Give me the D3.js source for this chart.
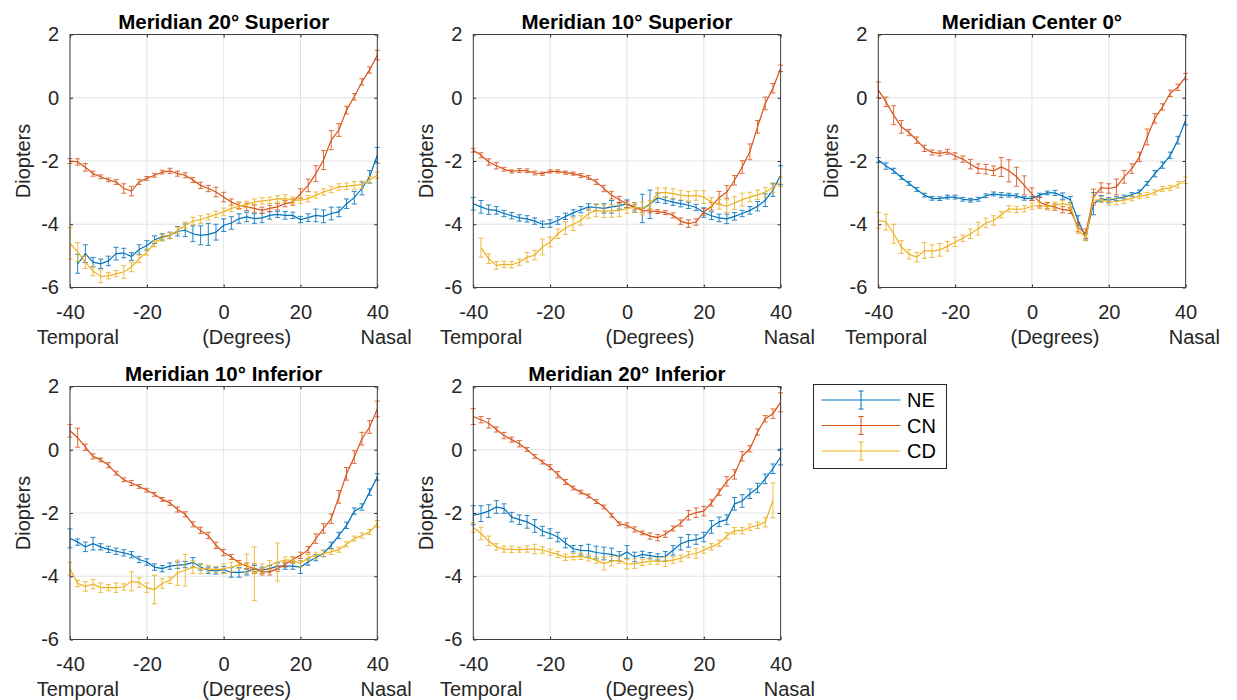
<!DOCTYPE html>
<html>
<head>
<meta charset="utf-8">
<script src="https://d3js.org/d3.v7.min.js"></script>
<style>
  body { margin: 0; background: #fff; }
  text { font-family: "Liberation Sans", Arial, Helvetica, sans-serif; fill: #262626; }
</style>
</head>
<body>
<div id="chart"></div>
<script>
// x positions (degrees) of the measurements
var degrees = [-40,-38,-36,-34,-32,-30,-28,-26,-24,-22,-20,-18,-16,-14,-12,-10,-8,-6,-4,-2,
               0,2,4,6,8,10,12,14,16,18,20,22,24,26,28,30,32,34,36,38,40];

var xTicks = [-40, -20, 0, 20, 40];
var yTicks = [-6, -4, -2, 0, 2];
var seriesNames = ["NE", "CN", "CD"];
var panelTitles = ["Meridian 20\u00b0 Superior", "Meridian 10\u00b0 Superior", "Meridian Center 0\u00b0",
                   "Meridian 10\u00b0 Inferior", "Meridian 20\u00b0 Inferior"];

// Meridian 20° Superior
var ne20Sup = [null,-5.25,-4.93,-5.2,-5.25,-5.16,-4.93,-4.91,-5.02,-4.8,-4.67,-4.49,-4.4,-4.35,-4.22,-4.19,-4.3,-4.35,-4.32,-4.25,
               -4.03,-3.96,-3.82,-3.77,-3.82,-3.8,-3.72,-3.69,-3.72,-3.72,-3.85,-3.79,-3.72,-3.75,-3.66,-3.61,-3.35,-3.16,-2.87,-2.5,-1.82];
var ne20SupErr = [null,0.3,0.28,0.15,0.15,0.15,0.2,0.15,0.12,0.15,0.15,0.12,0.1,0.1,0.15,0.2,0.25,0.3,0.35,0.25,
                  0.2,0.2,0.15,0.15,0.15,0.15,0.12,0.1,0.12,0.1,0.1,0.12,0.2,0.2,0.2,0.15,0.15,0.2,0.2,0.2,0.25];
var cn20Sup = [-2.0,-2.03,-2.2,-2.4,-2.5,-2.6,-2.66,-2.87,-2.95,-2.66,-2.55,-2.45,-2.35,-2.31,-2.4,-2.45,-2.6,-2.77,-2.87,-2.98,
               -3.14,-3.3,-3.4,-3.45,-3.5,-3.56,-3.5,-3.45,-3.35,-3.3,-3.03,-2.77,-2.4,-1.97,-1.34,-1.02,-0.39,0.03,0.5,0.88,1.35];
var cn20SupErr = [0.08,0.1,0.12,0.08,0.06,0.06,0.08,0.15,0.15,0.08,0.06,0.06,0.06,0.08,0.08,0.08,0.08,0.1,0.1,0.15,
                  0.15,0.1,0.1,0.12,0.12,0.1,0.1,0.1,0.1,0.1,0.15,0.2,0.25,0.3,0.3,0.2,0.12,0.1,0.1,0.1,0.15];
var cd20Sup = [-4.6,-4.88,-5.2,-5.48,-5.65,-5.63,-5.56,-5.51,-5.35,-5.09,-4.88,-4.61,-4.43,-4.36,-4.19,-4.03,-3.9,-3.85,-3.77,-3.69,
               -3.61,-3.5,-3.43,-3.37,-3.3,-3.26,-3.24,-3.2,-3.19,-3.24,-3.24,-3.19,-3.08,-2.98,-2.9,-2.82,-2.8,-2.77,-2.75,-2.59,-2.45];
var cd20SupErr = [0.5,0.3,0.2,0.15,0.2,0.1,0.1,0.2,0.15,0.12,0.1,0.1,0.1,0.1,0.1,0.1,0.12,0.12,0.1,0.1,
                  0.12,0.1,0.1,0.1,0.1,0.1,0.1,0.1,0.12,0.1,0.1,0.1,0.1,0.1,0.1,0.1,0.1,0.12,0.12,0.1,0.1];

// Meridian 10° Superior
var ne10Sup = [-3.35,-3.45,-3.54,-3.56,-3.66,-3.73,-3.8,-3.83,-3.9,-4.0,-3.98,-3.88,-3.75,-3.64,-3.54,-3.45,-3.47,-3.5,-3.45,-3.42,
               -3.35,-3.47,-3.5,-3.37,-3.16,-3.24,-3.3,-3.35,-3.4,-3.47,-3.63,-3.73,-3.8,-3.83,-3.75,-3.66,-3.56,-3.43,-3.24,-2.92,-2.45];
var ne10SupErr = [0.2,0.2,0.15,0.12,0.1,0.1,0.1,0.1,0.1,0.1,0.12,0.12,0.1,0.1,0.1,0.1,0.1,0.15,0.2,0.1,
                  0.12,0.15,0.45,0.45,0.15,0.1,0.1,0.1,0.1,0.1,0.15,0.12,0.12,0.15,0.12,0.1,0.12,0.15,0.2,0.2,0.3];
var cn10Sup = [-1.66,-1.82,-2.03,-2.15,-2.26,-2.33,-2.3,-2.31,-2.38,-2.4,-2.33,-2.33,-2.37,-2.4,-2.46,-2.52,-2.66,-2.87,-3.08,-3.22,
               -3.37,-3.47,-3.56,-3.58,-3.6,-3.63,-3.72,-3.9,-3.98,-3.93,-3.61,-3.43,-3.16,-2.98,-2.61,-2.19,-1.71,-0.92,-0.18,0.3,0.93];
var cn10SupErr = [0.06,0.08,0.1,0.1,0.06,0.05,0.06,0.06,0.06,0.05,0.05,0.05,0.05,0.05,0.06,0.06,0.08,0.1,0.12,0.1,
                  0.1,0.08,0.06,0.06,0.06,0.06,0.08,0.1,0.12,0.1,0.1,0.12,0.2,0.2,0.15,0.2,0.25,0.2,0.2,0.15,0.1];
var cd10Sup = [null,-4.74,-5.09,-5.3,-5.27,-5.28,-5.2,-5.04,-4.98,-4.72,-4.56,-4.3,-4.12,-4.0,-3.88,-3.66,-3.56,-3.59,-3.58,-3.56,
               -3.5,-3.47,-3.5,-3.4,-3.0,-3.0,-3.03,-3.08,-3.11,-3.09,-3.14,-3.3,-3.37,-3.43,-3.33,-3.22,-3.14,-3.07,-2.99,-2.84,-2.66];
var cd10SupErr = [null,0.3,0.15,0.12,0.1,0.1,0.1,0.15,0.15,0.25,0.15,0.15,0.2,0.2,0.15,0.15,0.2,0.2,0.2,0.2,
                  0.15,0.15,0.2,0.15,0.15,0.15,0.15,0.15,0.15,0.15,0.2,0.15,0.15,0.2,0.2,0.2,0.15,0.15,0.15,0.15,0.15];

// Meridian Center 0°
var neCenter = [-1.97,-2.16,-2.31,-2.52,-2.71,-2.9,-3.08,-3.18,-3.19,-3.14,-3.14,-3.21,-3.24,-3.21,-3.1,-3.04,-3.08,-3.08,-3.1,-3.18,
                -3.18,-3.08,-3.01,-3.01,-3.11,-3.22,-3.88,-4.4,-3.35,-3.19,-3.24,-3.19,-3.14,-3.06,-2.98,-2.71,-2.4,-2.13,-1.82,-1.34,-0.71];
var neCenterErr = [0.08,0.1,0.08,0.06,0.06,0.06,0.06,0.06,0.06,0.06,0.06,0.06,0.06,0.06,0.06,0.06,0.08,0.06,0.06,0.06,
                   0.06,0.06,0.06,0.08,0.1,0.1,0.15,0.1,0.35,0.1,0.08,0.06,0.06,0.06,0.06,0.06,0.1,0.1,0.1,0.12,0.15];
var cnCenter = [0.25,-0.13,-0.55,-0.92,-1.1,-1.34,-1.6,-1.73,-1.76,-1.71,-1.84,-1.94,-2.1,-2.24,-2.26,-2.31,-2.19,-2.31,-2.5,-2.77,
                -3.05,-3.3,-3.41,-3.46,-3.54,-3.56,-4.09,-4.3,-3.14,-2.84,-2.87,-2.82,-2.5,-2.24,-1.87,-1.24,-0.65,-0.29,0.14,0.33,0.67];
var cnCenterErr = [0.25,0.15,0.3,0.2,0.1,0.1,0.1,0.08,0.08,0.08,0.1,0.1,0.15,0.15,0.15,0.15,0.3,0.35,0.3,0.3,
                   0.2,0.15,0.1,0.1,0.1,0.1,0.15,0.15,0.25,0.15,0.15,0.25,0.2,0.15,0.15,0.25,0.15,0.1,0.1,0.1,0.1];
var cdCenter = [-3.88,-3.93,-4.3,-4.72,-4.95,-5.04,-4.83,-4.85,-4.81,-4.7,-4.56,-4.44,-4.3,-4.14,-3.96,-3.88,-3.7,-3.51,-3.53,-3.51,
                -3.43,-3.4,-3.45,-3.4,-3.35,-3.4,-4.19,-4.42,-3.24,-3.22,-3.29,-3.28,-3.24,-3.18,-3.11,-3.08,-2.99,-2.88,-2.85,-2.75,-2.61];
var cdCenterErr = [0.25,0.25,0.3,0.2,0.15,0.15,0.25,0.2,0.2,0.15,0.15,0.1,0.15,0.2,0.15,0.15,0.1,0.1,0.1,0.1,
                   0.1,0.1,0.1,0.1,0.1,0.1,0.1,0.1,0.1,0.1,0.1,0.1,0.1,0.08,0.08,0.08,0.08,0.08,0.08,0.1,0.1];

// Meridian 10° Inferior
var ne10Inf = [-2.8,-2.92,-3.07,-2.97,-3.07,-3.15,-3.21,-3.26,-3.32,-3.47,-3.55,-3.71,-3.76,-3.68,-3.65,-3.63,-3.56,-3.71,-3.81,-3.83,
               -3.79,-3.88,-3.88,-3.86,-3.76,-3.81,-3.76,-3.68,-3.68,-3.68,-3.71,-3.55,-3.41,-3.28,-3.02,-2.71,-2.39,-1.94,-1.81,-1.34,-0.86];
var ne10InfErr = [0.3,0.1,0.15,0.2,0.1,0.1,0.1,0.1,0.1,0.1,0.1,0.1,0.1,0.1,0.1,0.1,0.15,0.1,0.1,0.1,
                  0.1,0.15,0.15,0.1,0.1,0.1,0.1,0.1,0.1,0.1,0.2,0.1,0.1,0.1,0.1,0.1,0.1,0.1,0.1,0.1,0.1];
var cn10Inf = [0.6,0.38,0.08,-0.21,-0.32,-0.49,-0.74,-0.95,-1.05,-1.16,-1.28,-1.41,-1.57,-1.68,-1.89,-2.04,-2.36,-2.55,-2.71,-3.02,
               -3.25,-3.39,-3.58,-3.68,-3.76,-3.86,-3.86,-3.76,-3.63,-3.47,-3.34,-3.16,-2.81,-2.49,-2.18,-1.49,-0.76,-0.23,0.35,0.72,1.29];
var cn10InfErr = [0.2,0.3,0.1,0.08,0.06,0.08,0.06,0.06,0.08,0.06,0.06,0.06,0.06,0.08,0.08,0.08,0.08,0.1,0.1,0.1,
                  0.1,0.08,0.08,0.1,0.15,0.1,0.1,0.08,0.08,0.08,0.1,0.1,0.15,0.15,0.15,0.2,0.2,0.2,0.2,0.2,0.25];
var cd10Inf = [-3.76,-4.23,-4.32,-4.25,-4.36,-4.36,-4.36,-4.34,-4.16,-4.2,-4.36,-4.42,-4.23,-4.13,-3.89,-3.81,-3.71,-3.76,-3.76,-3.79,
               -3.76,-3.71,-3.65,-3.6,-3.92,-3.76,-3.65,-3.55,-3.49,-3.49,-3.6,-3.41,-3.34,-3.28,-3.23,-3.16,-2.99,-2.81,-2.71,-2.6,-2.34];
var cd10InfErr = [0.2,0.1,0.15,0.15,0.15,0.1,0.15,0.1,0.3,0.15,0.15,0.45,0.15,0.1,0.4,0.5,0.2,0.15,0.1,0.1,
                  0.15,0.15,0.1,0.3,0.85,0.15,0.15,0.6,0.1,0.1,0.1,0.1,0.1,0.1,0.08,0.08,0.08,0.08,0.08,0.08,0.1];

// Meridian 20° Inferior
var ne20Inf = [-2.07,-2.02,-1.94,-1.81,-1.86,-2.13,-2.21,-2.28,-2.41,-2.57,-2.65,-2.76,-2.95,-3.13,-3.18,-3.19,-3.25,-3.28,-3.31,-3.37,
               -3.23,-3.39,-3.31,-3.35,-3.39,-3.37,-3.18,-2.97,-2.88,-2.84,-2.76,-2.44,-2.28,-2.21,-1.71,-1.62,-1.39,-1.21,-0.92,-0.6,-0.23];
var ne20InfErr = [0.3,0.25,0.2,0.2,0.15,0.15,0.15,0.2,0.2,0.15,0.15,0.15,0.15,0.1,0.15,0.2,0.2,0.2,0.2,0.15,
                  0.2,0.15,0.1,0.1,0.1,0.15,0.15,0.2,0.2,0.15,0.15,0.2,0.15,0.15,0.2,0.2,0.15,0.15,0.15,0.15,0.25];
var cn20Inf = [1.05,0.95,0.84,0.64,0.45,0.32,0.19,0.01,-0.21,-0.39,-0.55,-0.79,-1.02,-1.21,-1.34,-1.46,-1.64,-1.81,-2.07,-2.34,
               -2.39,-2.52,-2.63,-2.73,-2.78,-2.67,-2.49,-2.32,-2.07,-1.99,-1.94,-1.68,-1.34,-1.0,-0.78,-0.21,0.03,0.56,0.98,1.14,1.5];
var cn20InfErr = [0.25,0.1,0.15,0.08,0.1,0.08,0.1,0.06,0.06,0.06,0.08,0.1,0.08,0.06,0.06,0.06,0.06,0.06,0.06,0.06,
                  0.08,0.08,0.06,0.1,0.1,0.1,0.08,0.1,0.15,0.15,0.15,0.1,0.1,0.15,0.15,0.15,0.1,0.1,0.1,0.15,0.3];
var cd20Inf = [-2.46,-2.65,-2.88,-3.07,-3.14,-3.15,-3.16,-3.14,-3.14,-3.17,-3.24,-3.31,-3.4,-3.38,-3.37,-3.42,-3.49,-3.6,-3.52,-3.49,
               -3.62,-3.6,-3.56,-3.52,-3.52,-3.54,-3.49,-3.43,-3.32,-3.28,-3.17,-3.07,-2.96,-2.72,-2.56,-2.56,-2.45,-2.39,-2.29,-1.6,null];
var cd20InfErr = [0.15,0.2,0.15,0.1,0.1,0.1,0.08,0.1,0.15,0.1,0.1,0.1,0.1,0.1,0.1,0.1,0.1,0.2,0.15,0.1,
                  0.15,0.15,0.1,0.1,0.1,0.15,0.1,0.1,0.1,0.15,0.1,0.1,0.1,0.1,0.1,0.1,0.1,0.1,0.15,0.55,null];

var panels = [
  {title: panelTitles[0], left: 70,    top: 34.5,  values: [ne20Sup, cn20Sup, cd20Sup], errors: [ne20SupErr, cn20SupErr, cd20SupErr]},
  {title: panelTitles[1], left: 473.3, top: 34.5,  values: [ne10Sup, cn10Sup, cd10Sup], errors: [ne10SupErr, cn10SupErr, cd10SupErr]},
  {title: panelTitles[2], left: 878.3, top: 34.5,  values: [neCenter, cnCenter, cdCenter], errors: [neCenterErr, cnCenterErr, cdCenterErr]},
  {title: panelTitles[3], left: 70,    top: 386.5, values: [ne10Inf, cn10Inf, cd10Inf], errors: [ne10InfErr, cn10InfErr, cd10InfErr]},
  {title: panelTitles[4], left: 473.3, top: 386.5, values: [ne20Inf, cn20Inf, cd20Inf], errors: [ne20InfErr, cn20InfErr, cd20InfErr]}
];

var colors = ["#0072BD", "#D95319", "#EDB120"];
var width = 307.3, height = 253;
var capHalf = 2.5;

var svg = d3.select("#chart").append("svg")
    .attr("width", 1237)
    .attr("height", 700);

var x = d3.scaleLinear().domain([-40, 40]).range([0, width]);
var y = d3.scaleLinear().domain([-6, 2]).range([height, 0]);

// plain hyphen for negatives, like the original
var fmt = function(d) { return String(d); };

var line = d3.line()
    .defined(function(d) { return d.v != null; })
    .x(function(d) { return x(d.x); })
    .y(function(d) { return y(d.v); });

panels.forEach(function(p) {
  var g = svg.append("g")
      .attr("transform", "translate(" + p.left + "," + p.top + ")");

  // grid
  g.selectAll(".gx").data(xTicks).enter().append("line")
      .attr("x1", function(d) { return x(d); }).attr("x2", function(d) { return x(d); })
      .attr("y1", 0).attr("y2", height)
      .style("stroke", "#e3e3e3").style("stroke-width", 1);
  g.selectAll(".gy").data(yTicks).enter().append("line")
      .attr("y1", function(d) { return y(d); }).attr("y2", function(d) { return y(d); })
      .attr("x1", 0).attr("x2", width)
      .style("stroke", "#e3e3e3").style("stroke-width", 1);

  // axes
  var xAxis = d3.axisBottom(x).tickValues(xTicks).tickFormat(fmt).tickSize(-3).tickPadding(17);
  var yAxis = d3.axisLeft(y).tickValues(yTicks).tickFormat(fmt).tickSize(-3).tickPadding(11);

  g.append("g").attr("transform", "translate(0," + height + ")").call(xAxis);
  g.append("g").call(yAxis);
  g.append("g").call(d3.axisTop(x).tickValues(xTicks).tickSize(-3).tickFormat(""));
  g.append("g").attr("transform", "translate(" + width + ",0)")
      .call(d3.axisRight(y).tickValues(yTicks).tickSize(-3).tickFormat(""));

  g.selectAll(".domain").remove();
  g.selectAll(".tick line").style("stroke", "#262626");
  g.selectAll(".tick text")
      .style("font-size", "20px")
      .style("font-family", "'Liberation Sans', Arial, sans-serif")
      .attr("fill", "#262626");

  // series
  p.values.forEach(function(vals, i) {
    var data = degrees.map(function(d, j) { return {x: d, v: vals[j], e: p.errors[i][j]}; });
    var pts = data.filter(function(d) { return d.v != null; });
    var c = colors[i];

    var eb = g.append("g").attr("class", "errorbars").style("stroke", c).style("stroke-width", 1).style("opacity", 0.85);
    eb.selectAll(".v").data(pts).enter().append("line")
        .attr("x1", function(d) { return x(d.x); }).attr("x2", function(d) { return x(d.x); })
        .attr("y1", function(d) { return y(d.v - d.e); }).attr("y2", function(d) { return y(d.v + d.e); });
    eb.selectAll(".t").data(pts).enter().append("line")
        .attr("x1", function(d) { return x(d.x) - capHalf; }).attr("x2", function(d) { return x(d.x) + capHalf; })
        .attr("y1", function(d) { return y(d.v + d.e); }).attr("y2", function(d) { return y(d.v + d.e); });
    eb.selectAll(".b").data(pts).enter().append("line")
        .attr("x1", function(d) { return x(d.x) - capHalf; }).attr("x2", function(d) { return x(d.x) + capHalf; })
        .attr("y1", function(d) { return y(d.v - d.e); }).attr("y2", function(d) { return y(d.v - d.e); });

    g.append("path")
        .datum(data)
        .attr("d", line)
        .style("fill", "none")
        .style("stroke", c)
        .style("stroke-width", 1.2);
  });

  // box
  g.append("rect")
      .attr("width", width).attr("height", height)
      .style("fill", "none").style("stroke", "#404040").style("stroke-width", 1);

  // title
  g.append("text")
      .attr("x", width / 2).attr("y", -6)
      .attr("text-anchor", "middle")
      .style("font-size", "20.5px")
      .style("font-weight", "bold")
      .style("fill", "#000")
      .text(p.title);

  // y label
  g.append("text")
      .attr("transform", "translate(-40," + (height / 2) + ") rotate(-90)")
      .attr("text-anchor", "middle")
      .style("font-size", "20px")
      .text("Diopters");

  // x label: Temporal (Degrees) Nasal
  g.append("text").attr("x", width / 2 - 187).attr("y", height + 56)
      .style("font-size", "20px").text("Temporal");
  g.append("text").attr("x", width / 2 + 23).attr("y", height + 56)
      .attr("text-anchor", "middle").style("font-size", "20px").text("(Degrees)");
  g.append("text").attr("x", width / 2 + 188).attr("y", height + 56)
      .attr("text-anchor", "end").style("font-size", "20px").text("Nasal");
});

// legend
var legend = svg.append("g").attr("transform", "translate(813.5,384.5)");
legend.append("rect")
    .attr("width", 133).attr("height", 84)
    .style("fill", "#fff").style("stroke", "#262626").style("stroke-width", 1);

seriesNames.forEach(function(name, i) {
  var ly = 15.5 + i * 25.5;
  var row = legend.append("g").attr("transform", "translate(0," + ly + ")");
  row.append("line").attr("x1", 8).attr("x2", 87).attr("y1", 0).attr("y2", 0)
      .style("stroke", colors[i]).style("stroke-width", 1.2);
  row.append("line").attr("x1", 47.5).attr("x2", 47.5).attr("y1", -9).attr("y2", 9)
      .style("stroke", colors[i]).style("stroke-width", 1);
  row.append("line").attr("x1", 45).attr("x2", 50).attr("y1", -9).attr("y2", -9)
      .style("stroke", colors[i]).style("stroke-width", 1);
  row.append("line").attr("x1", 45).attr("x2", 50).attr("y1", 9).attr("y2", 9)
      .style("stroke", colors[i]).style("stroke-width", 1);
  row.append("text").attr("x", 93.5).attr("y", 0).attr("dy", "0.35em")
      .style("font-size", "20px").style("fill", "#000").text(name);
});
</script>
</body>
</html>
